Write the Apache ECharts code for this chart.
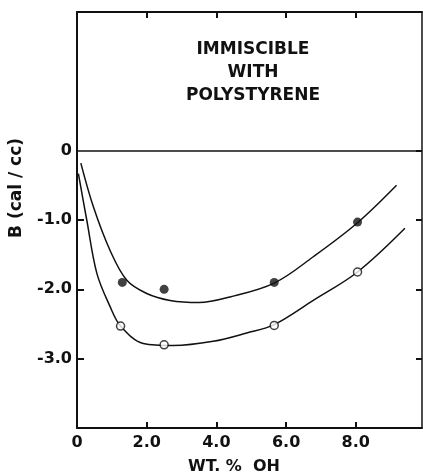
<!DOCTYPE html>
<html>
<head>
<meta charset="utf-8">
<script src="https://cdn.jsdelivr.net/npm/echarts@6/dist/echarts.min.js"></script>
<style>
  html, body { margin: 0; padding: 0; background: #fff; }
  #chart { width: 423px; height: 475px; }
</style>
</head>
<body>
<div id="chart"></div>
<script>
// measured points
var filledX = [1.3, 2.5, 5.66, 8.05]
var filledB = [-1.9, -2.0, -1.9, -1.03]
var openX = [1.25, 2.5, 5.66, 8.05]
var openB = [-2.53, -2.8, -2.52, -1.75]

// fitted curves
var upperX = [0.11, 0.47, 0.95, 1.43, 2.0, 2.67, 3.5, 4.39, 5.66, 6.78, 8.05, 9.17]
var upperB = [-0.18, -0.81, -1.44, -1.87, -2.06, -2.16, -2.19, -2.11, -1.91, -1.53, -1.04, -0.5]
var lowerX = [0.04, 0.28, 0.57, 0.95, 1.25, 1.9, 2.76, 3.91, 4.87, 5.66, 6.78, 8.05, 9.41]
var lowerB = [-0.33, -1.0, -1.77, -2.25, -2.53, -2.78, -2.81, -2.75, -2.63, -2.51, -2.16, -1.75, -1.12]

// ticks
var xTicks = [2, 4, 6, 8]
var xLabels = [0, 2, 4, 6, 8]
var yTicks = [-1, -2, -3]
var yLabels = [0, -1, -2, -3]
var rightTicks = [0, -1, -2, -3]

var ink = '#111'
var font = 'DejaVu Sans'

function pairs(xs, ys) {
  return xs.map(function (x, i) { return [x, ys[i]] })
}

function numLabel(v) {
  return v === 0 ? '0' : v.toFixed(1)
}

var chart = echarts.init(document.getElementById('chart'))
var option = {
  backgroundColor: '#fff',
  animation: false,
  grid: { left: 77, right: 1, top: 12, bottom: 47 },
  graphic: [
    {
      type: 'text',
      x: 253,
      y: 38,
      style: {
        text: 'IMMISCIBLE\nWITH\nPOLYSTYRENE',
        fill: ink,
        font: 'bold 17px "' + font + '"',
        align: 'center',
        verticalAlign: 'top',
        lineHeight: 23
      }
    },
    {
      type: 'text',
      x: 17,
      y: 188,
      rotation: Math.PI / 2,
      style: {
        text: 'B (cal / cc)',
        fill: ink,
        font: 'bold 17px "' + font + '"',
        align: 'center',
        verticalAlign: 'middle'
      }
    },
    {
      type: 'text',
      x: 234,
      y: 467,
      style: {
        text: 'WT. %  OH',
        fill: ink,
        font: 'bold 16px "' + font + '"',
        align: 'center',
        verticalAlign: 'middle'
      }
    }
  ],
  xAxis: [
    {
      type: 'value',
      min: 0,
      max: 9.9,
      interval: 2,
      position: 'bottom',
      splitLine: { show: false },
      axisLine: { onZero: false, lineStyle: { color: ink, width: 2 } },
      axisTick: { inside: true, length: 6, customValues: xTicks, lineStyle: { color: ink, width: 2 } },
      axisLabel: {
        customValues: xLabels,
        margin: 7,
        color: ink,
        fontFamily: font,
        fontWeight: 'bold',
        fontSize: 16,
        formatter: numLabel
      }
    },
    {
      type: 'value',
      min: 0,
      max: 9.9,
      interval: 2,
      position: 'top',
      splitLine: { show: false },
      axisLine: { onZero: false, lineStyle: { color: ink, width: 2 } },
      axisTick: { inside: true, length: 6, customValues: xTicks, lineStyle: { color: ink, width: 2 } },
      axisLabel: { show: false }
    }
  ],
  yAxis: [
    {
      type: 'value',
      min: -4,
      max: 2,
      interval: 1,
      position: 'left',
      splitLine: { show: false },
      axisLine: { onZero: false, lineStyle: { color: ink, width: 2 } },
      axisTick: { inside: true, length: 7, customValues: yTicks, lineStyle: { color: ink, width: 2 } },
      axisLabel: {
        customValues: yLabels,
        margin: 5,
        color: ink,
        fontFamily: font,
        fontWeight: 'bold',
        fontSize: 16,
        formatter: numLabel
      }
    },
    {
      type: 'value',
      min: -4,
      max: 2,
      interval: 1,
      position: 'right',
      splitLine: { show: false },
      axisLine: { onZero: false, lineStyle: { color: ink, width: 1.5 } },
      axisTick: { inside: true, length: 6, customValues: rightTicks, lineStyle: { color: ink, width: 2 } },
      axisLabel: { show: false }
    }
  ],
  series: [
    {
      type: 'line',
      data: pairs(upperX, upperB),
      smooth: 0.35,
      showSymbol: false,
      lineStyle: { color: ink, width: 1.5 },
      markLine: {
        silent: true,
        symbol: 'none',
        label: { show: false },
        lineStyle: { color: ink, width: 1.5, type: 'solid' },
        data: [{ yAxis: 0 }]
      },
      z: 2
    },
    {
      type: 'line',
      data: pairs(lowerX, lowerB),
      smooth: 0.35,
      showSymbol: false,
      lineStyle: { color: ink, width: 1.5 },
      z: 2
    },
    {
      type: 'scatter',
      data: pairs(filledX, filledB),
      symbol: 'circle',
      symbolSize: 9,
      itemStyle: { color: ink },
      z: 3
    },
    {
      type: 'scatter',
      data: pairs(openX, openB),
      symbol: 'circle',
      symbolSize: 8,
      itemStyle: { color: '#fff', borderColor: ink, borderWidth: 1.5 },
      z: 3
    }
  ]
}
chart.setOption(option)
</script>
</body>
</html>
